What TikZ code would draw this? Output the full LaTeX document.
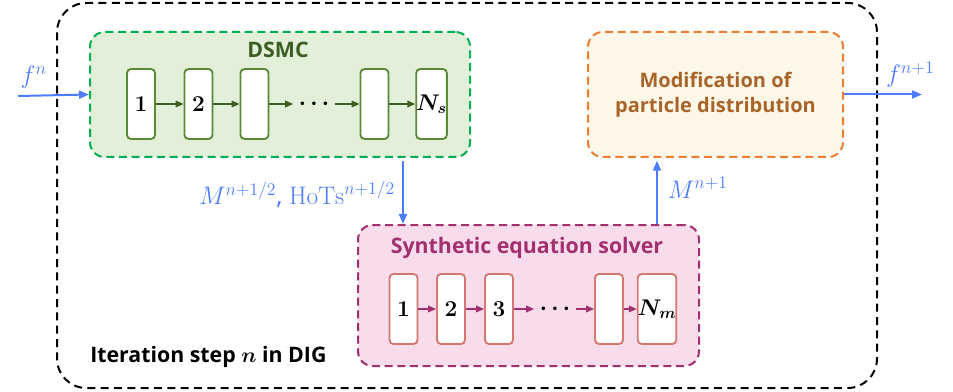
\documentclass[tikz,border=0pt]{standalone}
\usepackage{fix-cm}
\usepackage[no-math]{fontspec}
\setmainfont{Open Sans}
\usepackage{bm}
\usetikzlibrary{arrows.meta}
\definecolor{bluar}{HTML}{4C7DFF}
\definecolor{grfill}{HTML}{E2EFD9}
\definecolor{grdash}{HTML}{00B050}
\definecolor{grtext}{HTML}{3B5E22}
\definecolor{grline}{HTML}{5B8A36}
\definecolor{pkfill}{HTML}{F9DCEC}
\definecolor{pkdash}{HTML}{A3306E}
\definecolor{pkline}{HTML}{D4776E}
\definecolor{orfill}{HTML}{FDF7E8}
\definecolor{ordash}{HTML}{ED7D31}
\definecolor{ortext}{HTML}{A8652A}
\tikzset{%
    outer/.style={line width=1.5pt, dash pattern=on 6pt off 4pt, rounded corners=22pt},
    big/.style={rectangle, rounded corners=11pt, line width=1.5pt, dash pattern=on 6pt off 3.5pt},
    grbig/.style={big, draw=grdash, fill=grfill, minimum width=285pt, minimum height=93.75pt},
    pkbig/.style={big, draw=pkdash, fill=pkfill, minimum width=255.75pt, minimum height=105.75pt},
    orbig/.style={big, draw=ordash, fill=orfill, minimum width=191.25pt, minimum height=93.75pt},
    cell/.style={rectangle, rounded corners=3pt, line width=1.4pt, fill=white, inner sep=0pt,
        minimum width=21pt, minimum height=52.5pt, font=\fontsize{17}{20}\selectfont},
    grcell/.style={cell, draw=grline},
    pkcell/.style={cell, draw=pkline},
    ttl/.style={font=\fontsize{16}{19}\selectfont\bfseries},
    dts/.style={inner sep=0pt, font=\fontsize{17}{20}\selectfont},
    lab/.style={text=bluar, font=\fontsize{19}{22}\selectfont},
    bla/.style={line width=1.5pt, draw=bluar, -{Triangle[length=7.5pt, width=6pt]}},
    gra/.style={line width=1.1pt, draw=grtext, -{Triangle[length=6pt, width=5pt]}},
    pka/.style={line width=1.1pt, draw=pkdash, -{Triangle[length=6pt, width=5pt]}},
}

\begin{document}
\begin{tikzpicture}[x=0.75pt, y=-0.75pt]
    \useasboundingbox (0,0) rectangle (953,392);
    \draw [outer] (57,3) rectangle (877,388);
    \node [ttl, anchor=west, inner sep=0pt] (iter) at (90,357) {Iteration step $\bm{n}$ in DIG};

    % DSMC block
    \node [grbig] (dsmc) at (280,94.5) {};
    \node [ttl, text=grtext] (dsmct) at (278,50) {DSMC};
    \node [grcell] (s1) at (141,104) {$\mathbf{1}$};
    \node [grcell] (s2) at (198.5,104) {$\mathbf{2}$};
    \node [grcell] (s3) at (254.5,104) {};
    \node [dts] (sd) at (314,104) {$\bm{\cdots}$};
    \node [grcell] (s4) at (374.5,104) {};
    \node [grcell] (s5) at (431.5,104) {$\bm{N_s}$};
    \draw [gra] (s1) -- (s2);
    \draw [gra] (s2) -- (s3);
    \draw [gra, shorten >=4pt] (s3) -- (sd);
    \draw [gra, shorten <=4pt] (sd) -- (s4);
    \draw [gra] (s4) -- (s5);

    % synthetic solver
    \node [pkbig] (syn) at (528.5,295.5) {};
    \node [ttl, text=pkdash] (synt) at (527,248) {Synthetic equation solver};
    \node [pkcell] (m1) at (403.5,309) {$\mathbf{1}$};
    \node [pkcell] (m2) at (451,309) {$\mathbf{2}$};
    \node [pkcell] (m3) at (499,309) {$\mathbf{3}$};
    \node [dts] (md) at (555,309) {$\bm{\cdots}$};
    \node [pkcell] (m4) at (609,309) {};
    \node [pkcell] (m5) at (657,309) {$\bm{N_m}$};
    \draw [pka] (m1) -- (m2);
    \draw [pka] (m2) -- (m3);
    \draw [pka, shorten >=4pt] (m3) -- (md);
    \draw [pka, shorten <=4pt] (md) -- (m4);
    \draw [pka] (m4) -- (m5);

    % modification
    \node [orbig, align=center, ttl, text=ortext, font=\fontsize{15}{19}\selectfont\bfseries] (mod) at (715.5,94.5)
        {Modification of\\particle distribution};

    % flows
    \coordinate (fin) at (18,96);
    \coordinate (fout) at (922,94.5);
    \coordinate (xd) at (403,0);
    \coordinate (xm) at (657,0);
    \draw [bla] (fin) -- (dsmc.west) node [lab, pos=0.22, above=1pt] {$f^{n}$};
    \draw [bla] (mod.east) -- (fout) node [lab, pos=0.85, above=1pt] {$f^{n+1}$};
    \draw [bla, shorten <=2pt] (dsmc.south -| xd) -- (syn.north -| xd)
        node [lab, pos=0.55, left=2pt] {$M^{n+1/2}$, $\mathrm{HoTs}^{n+1/2}$};
    \draw [bla, shorten >=2pt] (syn.north -| xm) -- (mod.south -| xm)
        node [lab, pos=0.55, right=4pt] {$M^{n+1}$};
\end{tikzpicture}
\end{document}
